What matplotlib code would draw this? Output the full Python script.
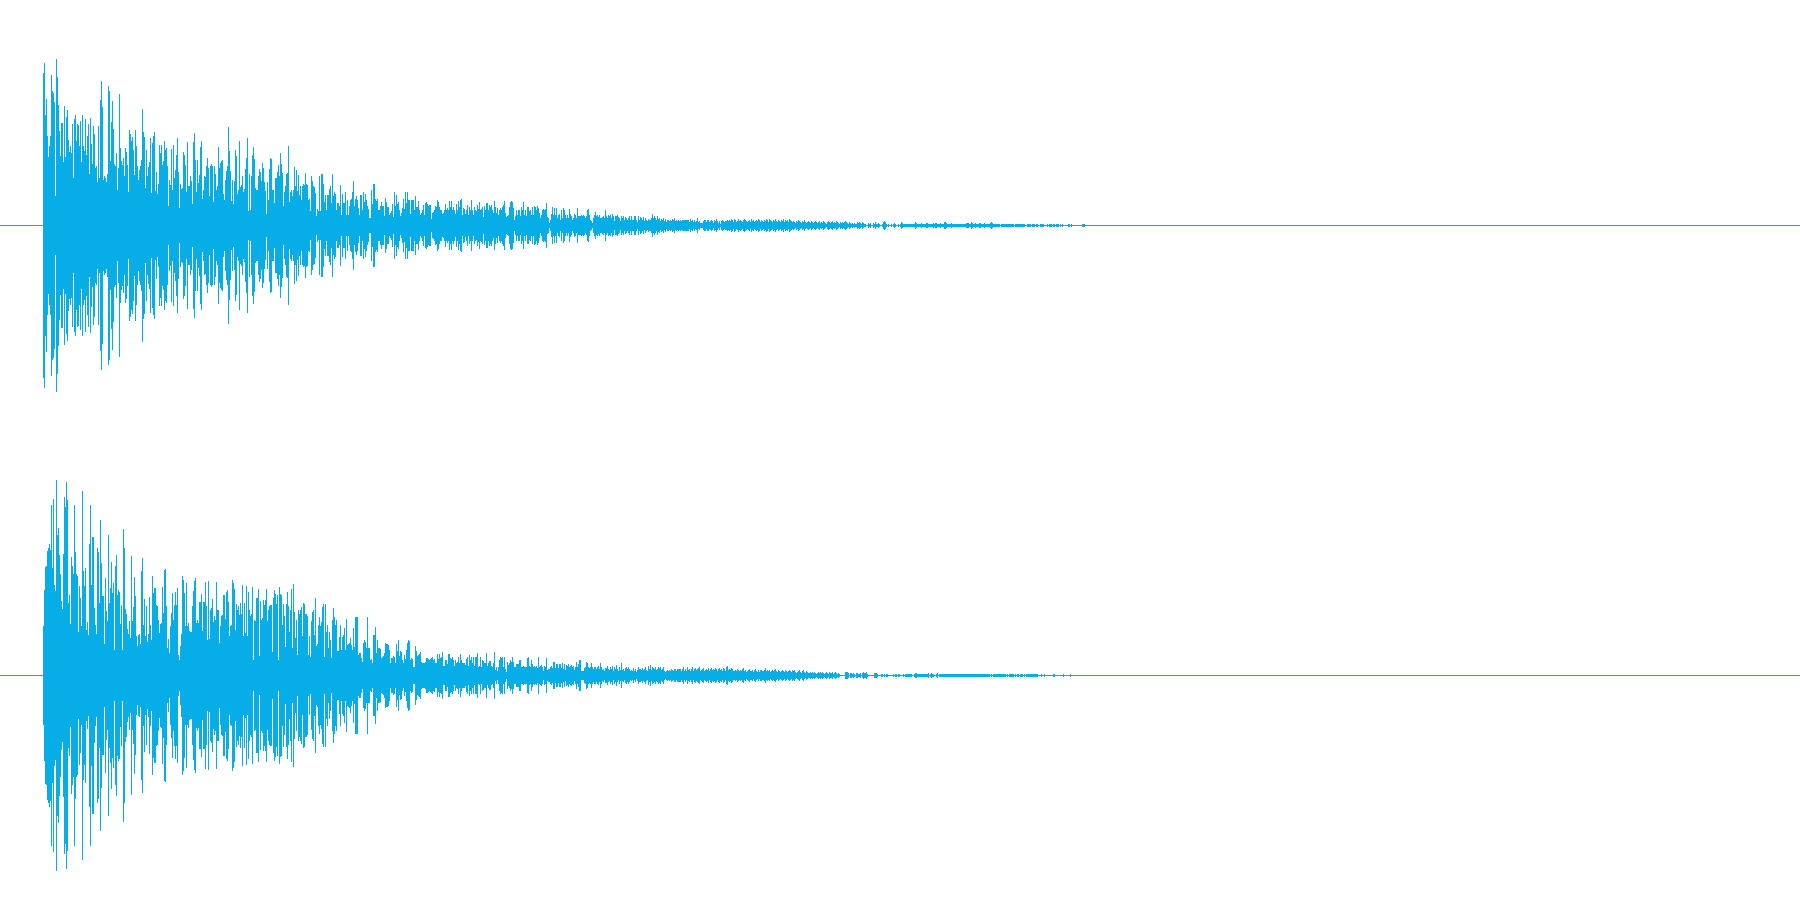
import matplotlib
matplotlib.use("Agg")
import matplotlib.pyplot as plt
import numpy as np

# Peak level per pixel column, the waveform is mirrored around the channel centre.
# Full scale of a channel is 225 levels.
WAVE_COLOR = "#07ADE6"

top_head = [
    152, 162, 110, 126, 89, 68, 79, 89, 150, 134, 132, 123, 29, 166, 148, 120, 94, 69, 102, 102,
    63, 119, 68, 108, 115, 85, 73, 79, 72, 101, 47, 106, 110, 84, 101, 100, 79, 104, 63, 110,
    79, 74, 106, 70, 89, 101, 51, 107, 81, 61, 99, 91, 57, 59, 43, 99, 47, 125, 144, 118,
    45, 49, 47, 43, 51, 139, 134, 64, 103, 124, 96, 61, 59, 72, 35, 57, 131, 77, 64, 60,
    67, 49, 77, 73, 60, 33, 95, 91, 84, 88, 75, 50, 95, 79, 59, 45, 55, 59, 65, 116,
    93, 88, 37, 75, 49, 58, 63, 87, 32, 82, 89, 93, 34, 53, 31, 41, 80, 72, 80, 60,
    64, 84, 75, 77, 59, 19, 45, 40, 76, 35, 80, 47, 55, 70, 87, 53, 17, 41, 36, 37,
    73, 70, 60, 33, 83, 39, 39, 49, 44, 21, 83, 92, 65, 33, 65, 42, 50, 78, 84, 26,
    35, 49, 48, 59, 67, 57, 29, 59, 61, 59, 23, 59, 51, 35, 39, 78, 57, 62, 64, 65,
    31, 25, 45, 54, 59, 98, 74, 54, 24, 45, 21, 44, 75, 69, 31, 35, 84, 38, 40, 49,
    33, 36, 56, 67, 87, 14, 51, 15, 49, 70, 78, 66, 37, 35, 35, 49, 56, 53, 44, 62,
    57, 43, 34, 11, 43, 25, 56, 67, 66, 35, 35, 22, 47, 47, 53, 60, 49, 72, 61, 52,
    19, 33, 39, 51, 52, 79, 23, 33, 35, 29, 35, 58, 39, 55, 34, 50, 30, 39, 25, 39,
    41, 40, 52, 41, 40, 25, 26, 14, 49, 44, 39, 38, 32, 9, 16, 14, 49, 14, 51, 51,
    41, 23, 30, 15, 30, 30, 36,
]
top_mid = [
    39, 22, 51, 29, 33, 31, 15, 22, 22, 19, 40, 10, 31, 22, 22, 33, 10, 25, 10, 19,
    25, 26, 33, 44, 19, 26, 29, 25, 17, 10, 30, 30, 15, 33, 23, 31, 25, 19, 16, 7,
    7, 35, 21, 41, 41, 26, 24, 26, 15, 15, 19, 23, 19, 19, 9, 27, 23, 18, 18, 10,
    12, 14, 21, 8, 33, 19, 30, 21, 23, 15, 9, 12, 17, 26, 16, 33, 22, 33, 25, 25,
    11, 25, 25, 25, 15, 29, 18, 18, 24, 15, 10, 12, 15, 20, 10, 22, 23, 21, 19, 20,
    20, 6, 12, 13, 15, 19, 18, 25, 23, 18, 15, 15, 11, 12, 15, 21, 15, 17, 15, 24,
    18, 24, 15, 18, 15, 11, 21, 15, 24, 18, 25, 26, 10, 17, 16, 11, 15, 20, 10, 18,
    15, 25, 15, 10, 18, 15, 14, 20, 16, 23, 15, 16, 18, 8, 19, 15, 22, 22, 15, 20,
    18, 20, 15, 12, 24, 18, 12, 17, 10, 15, 17, 15, 18, 20, 24, 12, 8, 9, 10, 18,
    23, 24, 23, 17, 5, 9, 15, 10, 15, 15, 9, 18, 15, 23, 10, 15, 9, 18, 18, 14,
    15, 10, 18, 10, 19, 18, 15, 19, 17, 12, 7, 10, 15, 16, 15, 16, 22, 8, 7, 2,
    5, 11, 18, 10, 17, 10, 17, 7, 10, 11, 5, 15, 7, 17, 15, 10, 7, 10, 7, 16,
    11, 9, 5, 7, 11, 10, 7, 17, 9, 9, 9, 10, 9, 10, 9, 7, 9, 15, 16, 10,
    5, 4, 2, 7, 10, 13, 9, 10, 8, 10, 7, 7, 8, 9, 7, 15, 9, 7, 10, 9,
    10, 7, 11, 9, 4, 9, 9, 10, 8, 7, 4, 9, 7, 9, 5, 8, 7, 5, 7, 9,
    5, 9, 5, 5, 9, 9, 5, 3, 9, 5, 8, 7, 5, 8, 4, 7, 5, 4, 6, 5,
    5, 7, 11, 7, 9, 7, 5, 9, 6, 7, 4, 6, 5, 7, 4, 6, 3, 5, 5, 4,
    5, 4, 6, 5, 7, 4, 5, 4, 5, 4, 5, 4, 5, 5, 5, 5, 5, 5, 5, 3,
    6, 4, 5, 3, 5, 3, 4, 7, 3, 4, 2, 2, 2, 4, 5, 5, 3, 5, 5, 3,
    4, 5, 4, 2, 5, 4, 6, 4, 2, 4, 1, 4, 5, 4, 3, 4, 4, 5, 4, 5,
]
top_tail = [
    4, 6, 5, 3, 6, 5, 3, 4, 6, 4, 5, 4, 3, 5, 6, 5, 4, 3, 4, 5, 3, 6, 4, 5, 3, 4, 5, 4, 6, 5,
    3, 5, 4, 3, 5, 4, 6, 5, 3, 6, 5, 4, 3, 5, 4, 6, 4, 3, 5, 4, 3, 5, 4, 6, 3, 5, 4, 5, 3, 6,
    5, 4, 3, 4, 3, 2, 4, 3, 5, 4, 3, 2, 4, 3, 5, 3, 2, 3, 4, 3, 2, 4, 3, 2, 3, 4, 3, 2, 3, 4,
    2, 3, 2, 4, 3, 2, 1, 3, 4, 3, 2, 3, 4, 2, 3, 2, 4, 3, 2, 1, 3, 2, 3, 2, 3, 4, 3, 2, 1, 3,
    2, 1, 2, 1, 2, 1, 1, 3, 2, 3, 2, 1, 3, 2, 1, 1, 0, 0, 2, 1, 2, 0, 0, 2, 1, 3, 1, 1, 2, 1,
    0, 0, 1, 3, 4, 3, 1, 0, 1, 0, 0, 1, 0, 1, 2, 1, 0, 0, 1, 0, 1, 3, 2, 1, 1, 1, 1, 1, 1, 1,
    1, 1, 1, 1, 1, 3, 2, 1, 1, 1, 1, 2, 1, 1, 1, 1, 2, 2, 1, 1, 1, 1, 1, 2, 1, 2, 2, 1, 1, 1,
    2, 1, 1, 1, 3, 3, 2, 1, 1, 1, 1, 2, 1, 1, 1, 1, 1, 1, 1, 1, 1, 1, 1, 1, 1, 1, 2, 2, 2, 1,
    1, 3, 2, 1, 1, 2, 1, 1, 1, 2, 2, 1, 1, 1, 2, 1, 1, 1, 1, 1, 2, 3, 2, 1, 1, 1, 1, 1, 1, 1,
    0, 1, 1, 1, 1, 1, 1, 1, 1, 1, 1, 1, 1, 1, 0, 1, 1, 1, 1, 1, 1, 1, 1, 1, 1, 0, 0, 1, 1, 1,
    1, 0, 1, 1, 1, 0, 1, 1, 0, 0, 1, 1, 1, 1, 0, 0, 0, 1, 0, 1, 1, 1, 0, 1, 1, 0, 1, 1, 1, 0,
    1, 0, 1, 0, 0, 0, 0, 0, 1, 1, 0, 1, 0, 0, 0, 0, 0, 0, 0, 0, 0, 0, 1, 1, 1,
]

bottom_head = [
    49, 85, 108, 109, 124, 127, 131, 125, 170, 107, 176, 90, 84, 195, 140, 147, 120, 101, 74, 66,
    121, 178, 168, 193, 175, 72, 80, 51, 118, 109, 101, 170, 123, 101, 99, 43, 89, 77, 49, 184,
    104, 89, 107, 45, 53, 40, 131, 170, 90, 138, 138, 67, 50, 41, 127, 123, 72, 155, 112, 79,
    79, 31, 97, 64, 54, 140, 72, 87, 113, 82, 92, 25, 109, 120, 80, 85, 83, 51, 70, 25,
    146, 127, 66, 61, 46, 41, 54, 37, 119, 54, 68, 98, 79, 39, 29, 40, 41, 31, 104, 117,
    50, 76, 39, 69, 33, 41, 78, 50, 35, 99, 82, 87, 87, 70, 69, 55, 42, 51, 52, 88,
    62, 105, 106, 69, 27, 36, 22, 49, 62, 82, 55, 70, 83, 70, 87, 20, 15, 29, 41, 99,
    95, 82, 49, 92, 49, 52, 44, 43, 43, 69, 84, 94, 97, 52, 55, 52, 73, 73, 81, 44,
    73, 73, 93, 69, 35, 94, 36, 65, 67, 76, 53, 59, 55, 93, 65, 65, 32, 49, 59, 60,
    80, 80, 56, 83, 85, 73, 39, 49, 50, 95, 92, 86, 45, 71, 65, 69, 60, 72, 61, 90,
    39, 72, 42, 89, 39, 83, 65, 59, 61, 88, 15, 55, 54, 77, 77, 86, 19, 74, 55, 57,
    75, 70, 75, 86, 54, 65, 69, 70, 70, 23, 77, 85, 81, 71, 80, 15, 88, 81, 80, 50,
    71, 59, 28, 71, 83, 69, 43, 65, 86, 27, 91, 63, 37, 55, 20, 65, 61, 65, 68, 39,
    72, 71, 61, 61, 59, 20, 39, 18, 54, 63, 65, 40, 77, 29, 31, 50, 58, 49, 53, 68,
    71, 18, 71, 43, 50, 27, 43,
]
bottom_mid = [
    35, 17, 55, 67, 58, 50, 55, 24, 24, 38, 50, 25, 38, 40, 47, 25, 56, 30, 31, 32,
    37, 30, 25, 47, 28, 58, 58, 58, 20, 22, 22, 17, 13, 32, 35, 33, 27, 58, 27, 27,
    15, 16, 12, 40, 40, 48, 22, 35, 27, 27, 26, 17, 18, 19, 22, 32, 31, 31, 30, 25,
    12, 17, 17, 19, 18, 12, 31, 24, 35, 19, 24, 23, 15, 12, 20, 16, 25, 32, 35, 34,
    15, 17, 16, 8, 8, 29, 24, 19, 20, 21, 23, 13, 12, 12, 12, 13, 17, 17, 16, 15,
    16, 17, 18, 15, 16, 12, 12, 21, 16, 21, 17, 18, 23, 9, 9, 15, 15, 11, 21, 21,
    17, 16, 18, 15, 9, 15, 12, 13, 18, 12, 21, 15, 12, 12, 12, 10, 16, 18, 9, 20,
    15, 18, 12, 18, 9, 18, 18, 22, 8, 9, 18, 8, 15, 14, 12, 12, 22, 9, 12, 14,
    14, 9, 8, 12, 23, 5, 8, 4, 8, 15, 18, 17, 18, 8, 18, 6, 3, 13, 10, 12,
    15, 13, 18, 13, 8, 8, 11, 11, 11, 15, 15, 8, 8, 9, 8, 8, 8, 17, 18, 9,
    8, 15, 11, 8, 9, 8, 9, 7, 18, 8, 9, 10, 8, 4, 9, 8, 17, 5, 6, 6,
    8, 9, 7, 13, 13, 7, 11, 11, 7, 11, 11, 7, 12, 6, 11, 5, 10, 9, 11, 8,
    9, 10, 8, 9, 5, 8, 13, 8, 11, 15, 15, 4, 4, 4, 7, 8, 13, 12, 8, 7,
    8, 12, 8, 6, 8, 8, 6, 8, 9, 6, 12, 8, 5, 6, 4, 7, 7, 9, 6, 5,
    8, 6, 9, 4, 8, 6, 10, 6, 4, 8, 5, 12, 5, 6, 4, 7, 8, 6, 8, 6,
    4, 5, 4, 7, 4, 6, 3, 5, 8, 6, 6, 5, 7, 5, 6, 8, 5, 4, 9, 6,
    10, 5, 8, 7, 6, 8, 5, 6, 8, 7, 8, 5, 6, 8, 4, 3, 4, 5, 4, 5,
    4, 6, 5, 4, 6, 6, 4, 6, 6, 6, 6, 4, 6, 8, 4, 6, 4, 8, 5, 6,
    4, 6, 8, 4, 6, 7, 5, 6, 7, 8, 4, 5, 6, 7, 4, 5, 6, 5, 7, 4,
    6, 7, 5, 6, 5, 7, 6, 4, 6, 7, 5, 6, 4, 7, 6, 4, 8, 9, 5, 6,
]
bottom_tail = [
    5, 7, 6, 4, 4, 5, 4, 6, 5, 4, 5, 4, 6, 7, 4, 5, 3, 4, 5, 6, 4, 4, 5, 3, 5, 6, 4, 3, 5, 3,
    5, 5, 4, 4, 5, 7, 4, 5, 4, 5, 3, 4, 5, 4, 5, 6, 4, 3, 5, 4, 3, 4, 5, 4, 3, 5, 4, 3, 4, 5,
    4, 3, 5, 4, 5, 3, 2, 3, 4, 5, 3, 2, 4, 5, 3, 2, 4, 3, 2, 2, 3, 2, 3, 2, 3, 2, 1, 2, 3, 2,
    3, 2, 3, 2, 1, 2, 3, 2, 1, 3, 2, 2, 3, 1, 2, 3, 2, 1, 2, 1, 0, 0, 0, 0, 0, 3, 3, 3, 2, 0,
    2, 2, 1, 2, 1, 0, 2, 2, 1, 1, 2, 0, 2, 3, 2, 2, 3, 1, 0, 0, 0, 0, 0, 0, 2, 2, 2, 1, 0, 0,
    0, 1, 1, 0, 1, 0, 1, 1, 0, 0, 0, 0, 0, 1, 0, 1, 1, 0, 1, 1, 0, 0, 0, 1, 0, 1, 1, 1, 1, 1,
    1, 1, 0, 0, 1, 2, 2, 1, 1, 1, 1, 1, 1, 1, 1, 1, 1, 1, 2, 0, 1, 2, 1, 1, 0, 0, 1, 2, 0, 1,
    1, 1, 1, 1, 1, 1, 1, 1, 1, 1, 1, 1, 1, 1, 1, 1, 1, 1, 1, 1, 1, 1, 1, 1, 1, 1, 1, 1, 1, 1,
    1, 1, 1, 1, 1, 1, 1, 1, 1, 1, 1, 1, 1, 1, 1, 1, 1, 1, 1, 1, 0, 1, 0, 1, 1, 1, 1, 1, 1, 1,
    1, 1, 1, 1, 1, 1, 0, 1, 0, 1, 1, 1, 1, 1, 0, 1, 0, 1, 1, 0, 1, 1, 1, 0, 1, 0, 1, 1, 1, 1,
    1, 1, 1, 1, 1, 1, 1, 1, 0, 0, 0, 1, 0, 0, 1, 0, 0, 0, 0, 0, 0, 0, 0, 1, 1, 0, 0, 0, 0, 0,
    0, 0, 0, 1, 0, 0, 0, 0, 0, 0, 1,
]

top_peak = top_head + top_mid + top_tail
bottom_peak = bottom_head + bottom_mid + bottom_tail

fig = plt.figure(figsize=(18, 9), dpi=100, facecolor="white")
ax_top = fig.add_axes([0, 0.5, 1, 0.5])
ax_bottom = fig.add_axes([0, 0, 1, 0.5])

for ax, peak in [(ax_top, top_peak), (ax_bottom, bottom_peak)]:
    # whole numbers here, snapping a .5 position pushes the lines one pixel over
    cols = np.arange(len(peak))
    levels = np.array(peak)
    ax.vlines(cols, -levels, levels, color=WAVE_COLOR, linewidth=0.72, antialiased=False)
    ax.axhline(0, color=WAVE_COLOR, linewidth=0.72, antialiased=False)
    ax.set_xlim(-43, 1757)
    ax.set_ylim(-224.7, 225.3)
    ax.axis("off")

fig.savefig("out.png", dpi=100)
